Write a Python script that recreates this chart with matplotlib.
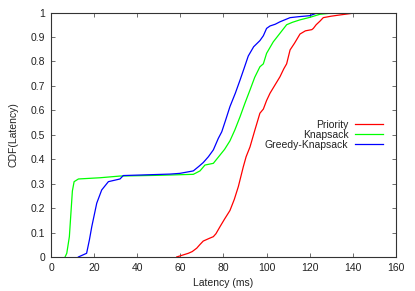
import matplotlib
matplotlib.use("Agg")
import matplotlib.pyplot as plt

# CDF points (latency in ms, cumulative fraction)
priority_x = [58.3, 63.7, 65.5, 67.6, 69.0, 70.6, 73.4, 75.3, 76.5, 78.4, 80.5, 83.0,
              85.0, 86.9, 89.2, 90.5, 92.3, 94.6, 96.9, 98.5, 100.0, 101.6, 104.0,
              106.2, 108.0, 109.3, 110.9, 113.0, 115.5, 118.0, 121.0, 121.7, 123.0,
              124.8, 126.3, 130.0, 134.0, 140.0, 152.6, 160.0]
priority_y = [0.0, 0.015, 0.022, 0.036, 0.05, 0.065, 0.076, 0.083, 0.095, 0.124, 0.155,
              0.19, 0.235, 0.288, 0.369, 0.41, 0.45, 0.52, 0.588, 0.605, 0.64, 0.67,
              0.705, 0.737, 0.77, 0.79, 0.847, 0.875, 0.912, 0.925, 0.93, 0.935, 0.95,
              0.965, 0.979, 0.985, 0.99, 0.997, 0.999, 1.0]

knapsack_x = [6.5, 7.3, 8.5, 9.3, 9.9, 10.7, 12.7, 22.7, 32.0, 50.0, 66.0, 69.1,
              71.4, 75.3, 78.4, 80.5, 83.0, 85.3, 87.7, 90.0, 92.3, 94.5, 96.9, 98.5,
              100.0, 103.1, 106.2, 109.3, 112.0, 115.5, 120.0, 124.8, 130.8, 160.0]
knapsack_y = [0.0, 0.015, 0.083, 0.19, 0.27, 0.308, 0.319, 0.324, 0.331, 0.334, 0.338,
              0.352, 0.376, 0.383, 0.417, 0.44, 0.475, 0.52, 0.574, 0.63, 0.683, 0.735,
              0.778, 0.79, 0.833, 0.88, 0.915, 0.95, 0.96, 0.97, 0.98, 0.993, 0.998, 1.0]

greedy_x = [12.7, 16.5, 17.8, 18.9, 21.2, 23.5, 26.6, 32.0, 33.5, 55.2, 59.8, 66.0,
            68.5, 70.6, 73.0, 75.3, 77.6, 79.2, 81.0, 83.0, 85.5, 87.7, 89.5, 91.5,
            94.0, 96.9, 98.5, 100.0, 101.6, 104.0, 106.2, 110.9, 115.0, 120.0,
            124.0, 160.0]
greedy_y = [0.0, 0.015, 0.07, 0.124, 0.22, 0.274, 0.308, 0.319, 0.333, 0.339, 0.342,
            0.352, 0.37, 0.386, 0.41, 0.438, 0.485, 0.512, 0.56, 0.615, 0.67, 0.724,
            0.77, 0.822, 0.86, 0.885, 0.905, 0.935, 0.945, 0.952, 0.962, 0.979, 0.983,
            0.987, 1.0, 1.0]

x_ticks = list(range(0, 161, 20))
y_ticks = [i / 10 for i in range(11)]
y_labels = ["0", "0.1", "0.2", "0.3", "0.4", "0.5", "0.6", "0.7", "0.8", "0.9", "1"]

plt.rcParams["font.family"] = ["Liberation Sans", "DejaVu Sans"]
plt.rcParams["font.size"] = 7.5

fig = plt.figure(figsize=(4.15, 2.91), dpi=100)
ax = fig.add_axes([0.123, 0.117, 0.831, 0.840])

ax.plot(priority_x, priority_y, color="#ff0000", lw=0.9, label="Priority")
ax.plot(knapsack_x, knapsack_y, color="#00ff00", lw=0.9, label="Knapsack")
ax.plot(greedy_x, greedy_y, color="#0000ff", lw=0.9, label="Greedy-Knapsack")

ax.set_xlim(0, 160)
ax.set_ylim(0, 1)
ax.set_xticks(x_ticks)
ax.set_yticks(y_ticks)
ax.set_yticklabels(y_labels)
ax.tick_params(direction="in", top=True, right=True, length=3, width=0.6,
               color="#555555", labelcolor="#222222", pad=4)
for s in ax.spines.values():
    s.set_linewidth(0.8)
    s.set_color("#333333")

ax.set_xlabel("Latency (ms)", color="#222222", labelpad=4)
ax.set_ylabel("CDF(Latency)", color="#222222", labelpad=9)

leg = ax.legend(loc="lower right", bbox_to_anchor=(0.962, 0.437), frameon=False,
                markerfirst=False, handlelength=2.7, handletextpad=0.6,
                labelspacing=0.0, borderaxespad=0, borderpad=0)
for t in leg.get_texts():
    t.set_ha("right")
    t.set_color("#222222")
leg._legend_box.align = "right"

fig.savefig("out.png", dpi=100)
